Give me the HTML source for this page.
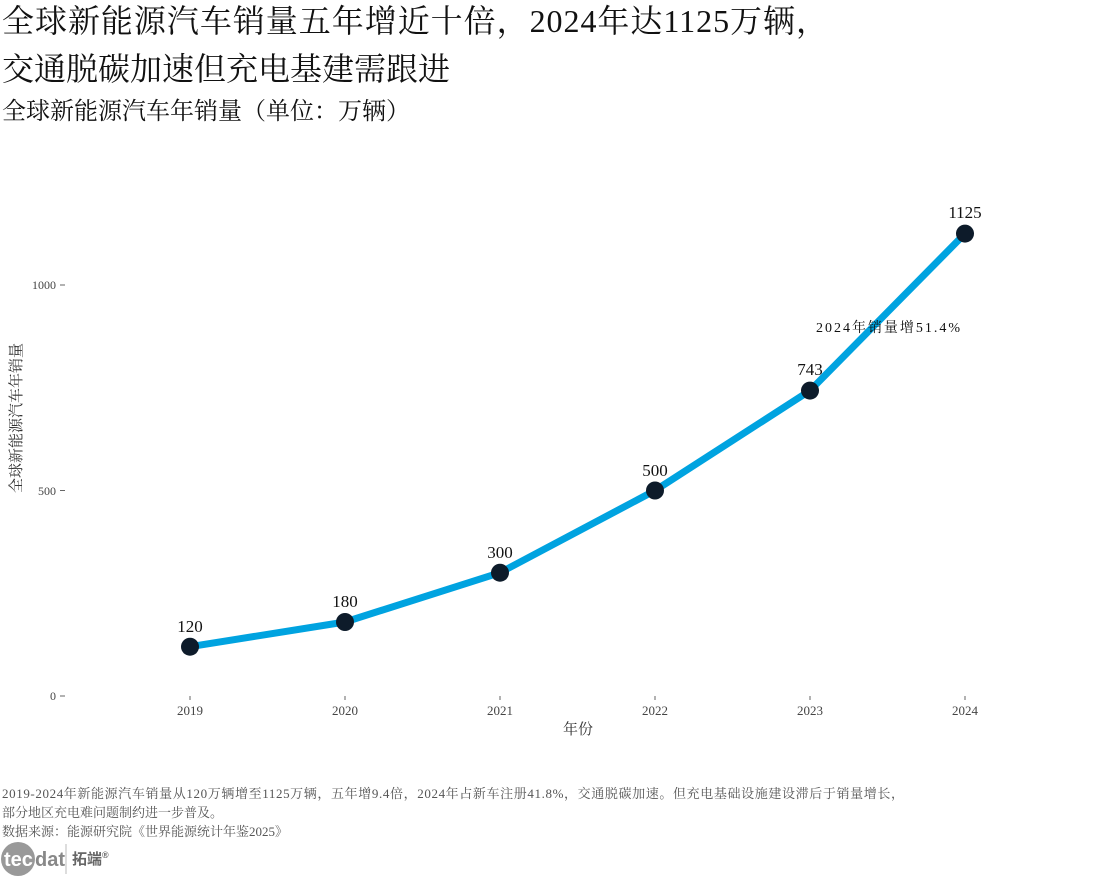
<!DOCTYPE html>
<html><head><meta charset="utf-8"><style>
body{margin:0;background:#fff;}
svg text{font-family:"Liberation Serif","Noto Serif CJK SC",serif;}
</style></head><body>
<svg width="1098" height="878" viewBox="0 0 1098 878" xmlns="http://www.w3.org/2000/svg">
<text x="2" y="32" font-size="32" fill="#111" textLength="826" lengthAdjust="spacing">全球新能源汽车销量五年增近十倍，2024年达1125万辆，</text>
<text x="2" y="80" font-size="32" fill="#111">交通脱碳加速但充电基建需跟进</text>
<text x="2" y="119" font-size="24" fill="#111">全球新能源汽车年销量（单位：万辆）</text>
<g font-size="12" fill="#444" text-anchor="end">
<text x="56" y="700">0</text><text x="56" y="495">500</text><text x="56" y="289">1000</text>
</g>
<g stroke="#666" stroke-width="1">
<line x1="60" y1="696" x2="65" y2="696"/><line x1="60" y1="490.5" x2="65" y2="490.5"/><line x1="60" y1="285" x2="65" y2="285"/>
<line x1="190" y1="696" x2="190" y2="700"/><line x1="345" y1="696" x2="345" y2="700"/><line x1="500" y1="696" x2="500" y2="700"/><line x1="655" y1="696" x2="655" y2="700"/><line x1="810" y1="696" x2="810" y2="700"/><line x1="965" y1="696" x2="965" y2="700"/>
</g>
<g font-size="13" fill="#444" text-anchor="middle">
<text x="190" y="715">2019</text><text x="345" y="715">2020</text><text x="500" y="715">2021</text><text x="655" y="715">2022</text><text x="810" y="715">2023</text><text x="965" y="715">2024</text>
</g>
<text x="578" y="734" font-size="15" fill="#333" text-anchor="middle">年份</text>
<text transform="translate(21,418) rotate(-90)" font-size="15" fill="#333" text-anchor="middle">全球新能源汽车年销量</text>
<polyline points="190,646.7 345,622 500,572.7 655,490.5 810,390.6 965,233.6" fill="none" stroke="#00a3e0" stroke-width="7" stroke-linejoin="round" stroke-linecap="round"/>
<g fill="#0d1b2a">
<circle cx="190" cy="646.7" r="9"/><circle cx="345" cy="622" r="9"/><circle cx="500" cy="572.7" r="9"/><circle cx="655" cy="490.5" r="9"/><circle cx="810" cy="390.6" r="9"/><circle cx="965" cy="233.6" r="9"/>
</g>
<g font-size="17" fill="#111" text-anchor="middle">
<text x="190" y="632">120</text><text x="345" y="607">180</text><text x="500" y="558">300</text><text x="655" y="476">500</text><text x="810" y="375">743</text><text x="965" y="218">1125</text>
</g>
<text x="816" y="332" font-size="14" fill="#111" textLength="144" lengthAdjust="spacing">2024年销量增51.4%</text>
<g font-size="13" fill="#555">
<text x="2" y="798" textLength="902" lengthAdjust="spacing">2019-2024年新能源汽车销量从120万辆增至1125万辆，五年增9.4倍，2024年占新车注册41.8%，交通脱碳加速。但充电基础设施建设滞后于销量增长，</text>
<text x="2" y="817">部分地区充电难问题制约进一步普及。</text>
<text x="2" y="836">数据来源：能源研究院《世界能源统计年鉴2025》</text>
</g>
<circle cx="18" cy="859" r="17" fill="#999"/>
<text x="4" y="866" font-size="20" fill="#fff" style="font-family:'Liberation Sans',sans-serif;font-weight:bold">tec</text>
<text x="35" y="866" font-size="20" fill="#888" style="font-family:'Liberation Sans',sans-serif;font-weight:bold">dat</text>
<line x1="66" y1="844" x2="66" y2="874" stroke="#bbb"/>
<text x="72" y="864" font-size="15" fill="#666" style="font-family:'Liberation Sans','Noto Sans CJK SC',sans-serif;font-weight:bold">拓端<tspan font-size="9" dy="-6">®</tspan></text>
</svg>
</body></html>
